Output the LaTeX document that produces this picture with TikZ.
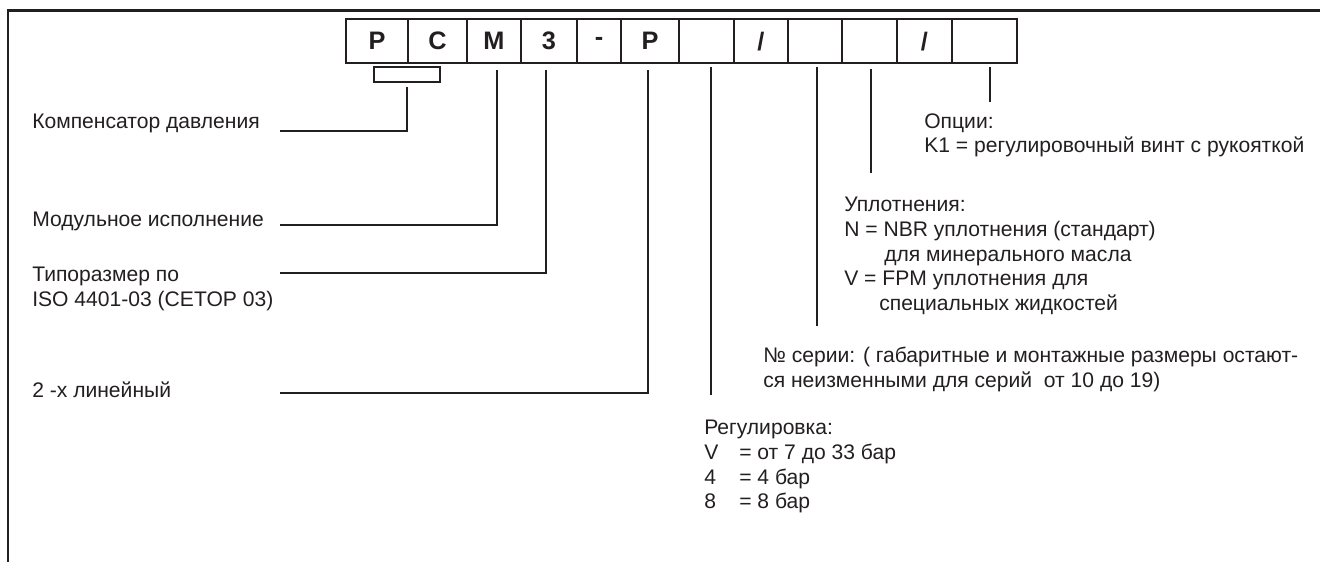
\documentclass[tikz,border=0pt]{standalone}
\usepackage{fontspec}
\setmainfont{Liberation Sans}
\usepackage{xcolor}
\usepackage{tikz}
\usetikzlibrary{calc}
\definecolor{ink}{RGB}{35,31,32}
\tikzset{
    cell/.style={draw=ink, line width=1.4pt, minimum height=1.09cm, inner sep=0pt, text=ink, font=\fontsize{18}{20}\selectfont\bfseries},
    brk/.style={draw=ink, line width=1.4pt, minimum width=1.65cm, minimum height=0.375cm, inner sep=0pt},
    txt/.style={inner sep=0pt, align=left, text=ink, font=\fontsize{15}{17.5}\selectfont},
    lnk/.style={draw=ink, line width=1.6pt},
    frm/.style={draw=ink, line width=2.1pt}
}

\begin{document}
\begin{tikzpicture}
    \useasboundingbox (0,0) rectangle (33,-14.05);
    % frame
    \draw[frm] (0.2,-14.05) -- (0.2,-0.26) -- (33,-0.26);

    % type code
    \node[cell, minimum width=1.55cm] (c1) at (9.425,-1.03) {P};
    \node[cell, minimum width=1.475cm] (c2) at (10.9375,-1.03) {C};
    \node[cell, minimum width=1.35cm] (c3) at (12.35,-1.03) {M};
    \node[cell, minimum width=1.4cm] (c4) at (13.725,-1.03) {3};
    \node[cell, minimum width=1.1cm] (c5) at (14.975,-1.03) {-};
    \node[cell, minimum width=1.45cm] (c6) at (16.25,-1.03) {P};
    \node[cell, minimum width=1.375cm] (c7) at (17.6625,-1.03) {};
    \node[cell, minimum width=1.35cm] (c8) at (19.025,-1.03) {/};
    \node[cell, minimum width=1.35cm] (c9) at (20.375,-1.03) {};
    \node[cell, minimum width=1.375cm] (c10) at (21.7375,-1.03) {};
    \node[cell, minimum width=1.375cm] (c11) at (23.1125,-1.03) {/};
    \node[cell, minimum width=1.625cm] (c12) at (24.6125,-1.03) {};
    \node[brk] (br) at (10.175,-1.8625) {};

    % left side
    \node[txt, anchor=west] (t1) at (0.8,-3.075) {Компенсатор давления};
    \node[txt, anchor=west] (t2) at (0.8,-5.525) {Модульное исполнение};
    \node[txt, anchor=north west] (t3) at (0.8,-6.675) {Типоразмер по\\ISO 4401-03 (CETOP 03)};
    \node[txt, anchor=west] (t4) at (0.8,-9.75) {2 -х линейный};

    \coordinate (e1) at (7,-3.275);
    \coordinate (e2) at (7,-5.625);
    \coordinate (e3) at (7,-6.825);
    \coordinate (e4) at (7,-9.825);

    \draw[lnk] ([yshift=-0.1cm]br.south) |- (e1);
    \draw[lnk] ([xshift=0.075cm,yshift=-0.15cm]c3.south) |- (e2);
    \draw[lnk] ([xshift=-0.075cm,yshift=-0.15cm]c4.south) |- (e3);
    \draw[lnk] ([xshift=-0.05cm,yshift=-0.15cm]c6.south) |- (e4);

    % right side
    \node[txt, anchor=north west] (r1) at (23.1,-2.825) {Опции:\\K1 = регулировочный винт с рукояткой};
    \node[txt, anchor=north west] (r2) at (21.1,-4.925) {Уплотнения:\\N = NBR уплотнения (стандарт)\\\hspace*{1cm}для минерального масла\\V = FPM уплотнения для\\\hspace*{0.875cm}специальных жидкостей};
    \node[txt, anchor=north west] (r3) at (19.075,-8.675) {№ серии: ( габаритные и монтажные размеры остают-\\ся неизменными для серий \ от 10 до 19)};
    \node[txt, anchor=north west] (r4) at (17.6,-10.5) {Регулировка:\\\makebox[0.875cm][l]{V}= от 7 до 33 бар\\\makebox[0.875cm][l]{4}= 4 бар\\\makebox[0.875cm][l]{8}= 8 бар};

    \coordinate (f1) at (17.775,-9.875);
    \coordinate (f2) at (20.425,-8.15);
    \coordinate (f3) at (21.775,-4.32);
    \coordinate (f4) at (24.75,-2.55);

    \draw[lnk] ($(f1 |- c7.south)+(0,-0.075)$) -- (f1);
    \draw[lnk] ($(f2 |- c9.south)+(0,-0.075)$) -- (f2);
    \draw[lnk] ($(f3 |- c10.south)+(0,-0.125)$) -- (f3);
    \draw[lnk] ($(f4 |- c12.south)+(0,-0.075)$) -- (f4);
\end{tikzpicture}
\end{document}
